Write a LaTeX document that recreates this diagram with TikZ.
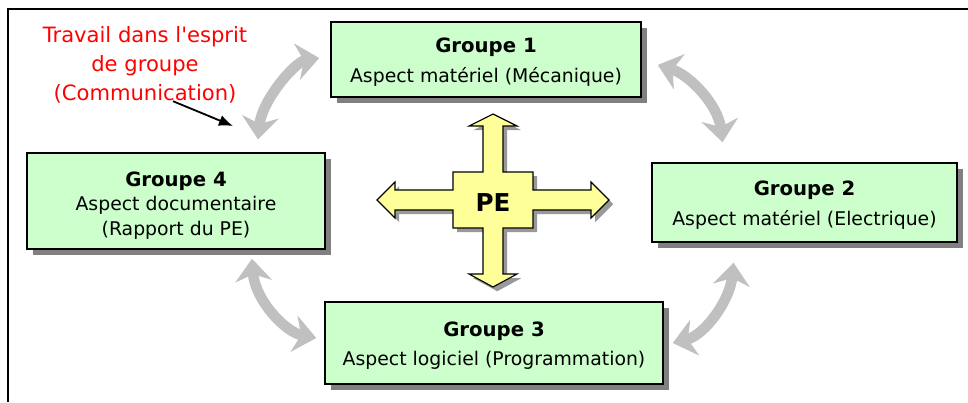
\documentclass[tikz,border=0pt]{standalone}
\usepackage{fontspec}
\setmainfont{DejaVu Sans}
\usetikzlibrary{arrows.meta,shadows}

\definecolor{boxgreen}{HTML}{CCFFCC}
\definecolor{crossyellow}{HTML}{FFFF99}
\definecolor{arcgray}{HTML}{C0C0C0}

\begin{document}
\begin{tikzpicture}[x=0.025cm, y=-0.025cm,
	grp/.style={rectangle, draw, line width=1pt, fill=boxgreen, align=center,
		font=\fontsize{13.4}{21}\selectfont,
		drop shadow={shadow xshift=4pt, shadow yshift=-4pt, fill=gray, opacity=1}},
	swap/.style={draw=arcgray, line width=7.5pt,
		{Stealth[length=16pt, width=26pt, inset=5pt]}-{Stealth[length=16pt, width=26pt, inset=5pt]}}]

	\useasboundingbox (0,0) rectangle (968,402);

	% Frame
	\draw[line width=1.4pt] (8,402) -- (8,9) -- (968,9);

	% Nodes
	\node[grp, minimum width=7.75cm, minimum height=1.875cm] (g1) at (486,59.5) {\rule{0pt}{14pt}{\fontsize{14}{21}\selectfont\bfseries Groupe 1}\\Aspect matériel (Mécanique)};
	\node[grp, minimum width=7.625cm, minimum height=1.975cm] (g2) at (804.5,202.5) {\rule{0pt}{14pt}{\fontsize{14}{21}\selectfont\bfseries Groupe 2}\\Aspect matériel (Electrique)};
	\node[grp, minimum width=8.45cm, minimum height=2.05cm] (g3) at (494,343) {\rule{0pt}{14pt}{\fontsize{14}{21}\selectfont\bfseries Groupe 3}\\Aspect logiciel (Programmation)};
	\node[grp, minimum width=7.45cm, minimum height=2.4cm, font=\fontsize{13.4}{17.5}\selectfont] (g4) at (176,201) {\rule{0pt}{17pt}{\fontsize{14}{17.5}\selectfont\bfseries Groupe 4}\\Aspect documentaire\\(Rapport du PE)};

	% Central cross
	\draw[line width=0.8pt, fill=crossyellow, shift={(493,200)},
		drop shadow={shadow xshift=3pt, shadow yshift=-3pt, fill=gray!80, opacity=1}]
		(0,-86) -- (24,-74) -- (10,-74) -- (10,-28) -- (40,-28) -- (40,-10) -- (98,-10) -- (98,-18)
		-- (116,0) -- (98,18) -- (98,10) -- (40,10) -- (40,28) -- (10,28) -- (10,74) -- (24,74)
		-- (0,87) -- (-24,74) -- (-10,74) -- (-10,28) -- (-40,28) -- (-40,10) -- (-98,10) -- (-98,18)
		-- (-116,0) -- (-98,-18) -- (-98,-10) -- (-40,-10) -- (-40,-28) -- (-10,-28) -- (-10,-74) -- (-24,-74) -- cycle;
	\node[font=\fontsize{17.5}{20}\selectfont\bfseries] (pe) at (493,203) {PE};

	% Links
	\draw[swap] ([shift={(-11,-1.5)}]g1.west) .. controls (295,62) and (262,100) .. ([shift={(82,-13)}]g4.north);
	\draw[swap] ([shift={(16,5.5)}]g1.east) .. controls (690,75) and (718,105) .. ([shift={(-82,-20)}]g2.north);
	\draw[swap] ([shift={(-71,20)}]g2.south) .. controls (730,300) and (705,335) .. ([shift={(9,0)}]g3.east);
	\draw[swap] ([shift={(76,9)}]g4.south) .. controls (255,300) and (285,332) .. ([shift={(-8,-5)}]g3.west);

	% Description
	\node[red, align=center, font=\fontsize{15}{20.5}\selectfont] (comm) at (145,65) {Travail dans l\textquotesingle esprit\\de groupe\\(Communication)};
	\coordinate (ptr) at (233,126);
	\draw[line width=1.3pt, -{Latex[length=10pt, width=8pt]}] ([shift={(28,-7)}]comm.south) -- (ptr);
\end{tikzpicture}
\end{document}
